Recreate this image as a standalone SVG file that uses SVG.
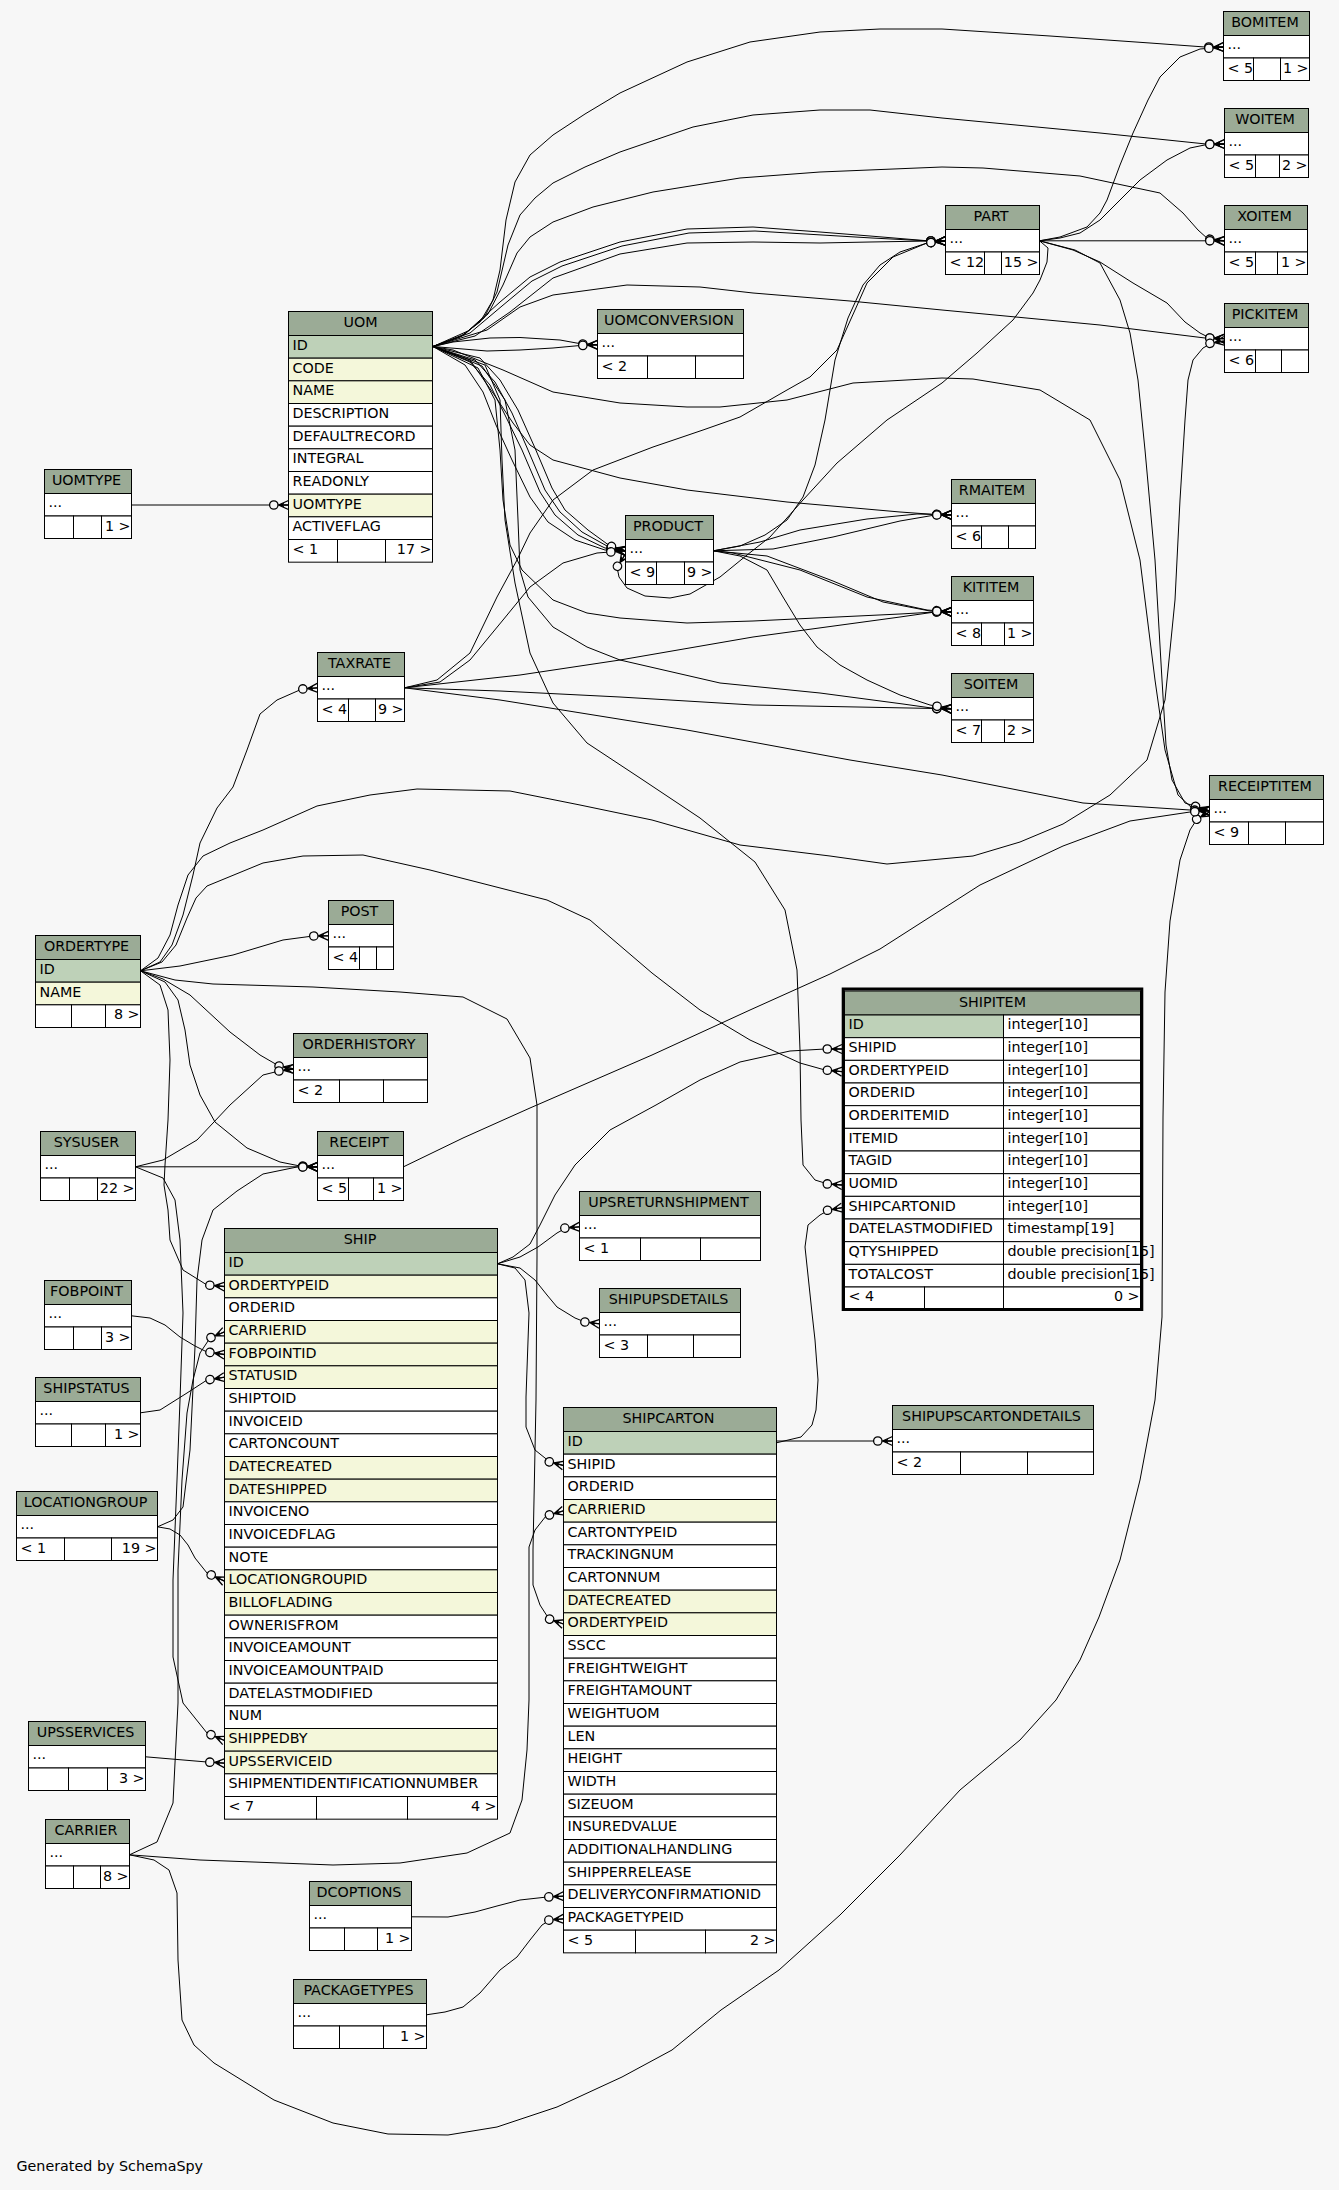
<svg xmlns="http://www.w3.org/2000/svg" width="1339" height="2190" viewBox="0 0 1339 2190">
<style>
.h{fill:#9bab96;stroke:#000;stroke-width:1}
.w{fill:#fff;stroke:#000;stroke-width:1}
.pk{fill:#bed1b8;stroke:#000;stroke-width:1}
.ix{fill:#f4f7da;stroke:#000;stroke-width:1}
text{font-family:"DejaVu Sans","Liberation Sans",sans-serif;font-size:14.3px;fill:#000}
.c{text-anchor:middle}
.r{text-anchor:end}
.e{fill:none;stroke:#000;stroke-width:1;marker-end:url(#cf)}
</style>
<defs>
<marker id="cf" markerUnits="userSpaceOnUse" markerWidth="24" markerHeight="12" refX="0" refY="0" orient="auto" overflow="visible">
<path d="M-10,0 L0,-4.5 M-10,0 L0,4.5 M-10,0 L0,0" stroke="#000" stroke-width="1.3" fill="none"/>
<path d="M-10,0 L-4,-2.6 L-5.5,0 L-4,2.6 Z" fill="#000"/>
<circle cx="-14.7" cy="0" r="4.2" fill="#f7f7f7" stroke="#000" stroke-width="1.3"/>
</marker>
</defs>
<rect x="0" y="0" width="1339" height="2190" fill="#f7f7f7"/>
<g id="edges">
<path class="e" d="M433,346.5 L460,337 L480,322 L493,300 L500,270 L506,220 L515,182 L530,155 L553,135 L585,114 L620,93 L687,62 L750,42 L820,32 L880,29 L942,29 L1050,36 L1150,43 L1205,47 L1223.5,47"/>
<path class="e" d="M433,346.5 L462,336 L484,318 L497,292 L508,245 L520,215 L535,198 L553,183 L585,167 L620,152 L693,127 L753,115 L820,110 L870,110 L942,118 L1100,133 L1206,144 L1224.5,144"/>
<path class="e" d="M433,346.5 L465,334 L488,314 L503,285 L517,253 L530,237 L553,222 L593,207 L653,192 L740,178 L820,172 L942,167 L983,168 L1080,176 L1160,193 L1183,213 L1198,230 L1208,239 L1224.5,240.8"/>
<path class="e" d="M433,346.5 L468,331 L500,302 L530,277 L560,262 L620,242 L687,229 L753,227 L820,232 L870,236 L930,241 L945.5,241"/>
<path class="e" d="M433,346.5 L470,333 L502,306 L532,281 L562,266 L622,246 L689,233 L755,231 L822,235 L872,238 L930,241 L945.5,241"/>
<path class="e" d="M433,346.5 L475,336 L510,312 L553,278 L620,254 L687,243 L753,242 L820,243 L870,242 L930,241 L945.5,241"/>
<path class="e" d="M433,346.5 L487,330 L520,307 L553,295 L627,285 L700,287 L753,293 L850,301 L942,310 L1100,325 L1205,338 L1224.5,338.7"/>
<path class="e" d="M433,346.5 L453,342 L490,338 L520,337.5 L560,340 L582,344 L597.5,344.8"/>
<path class="e" d="M433,346.5 L487,351 L520,350 L553,348 L580,345.5 L597.5,344.8"/>
<path class="e" d="M433,346.5 L470,362 L490,385 L505,415 L522,450 L540,492 L555,515 L578,535 L605,548 L625.5,550.8"/>
<path class="e" d="M433,346.5 L475,360 L495,382 L512,413 L528,450 L545,490 L560,512 L582,532 L607,546 L625.5,550.8"/>
<path class="e" d="M433,346.5 L465,365 L483,392 L496,425 L512,460 L530,497 L548,522 L575,540 L605,550 L625.5,550.8"/>
<path class="e" d="M433,346.5 L480,358 L500,380 L518,410 L535,448 L552,488 L565,510 L588,530 L610,546 L625.5,550.8"/>
<path class="e" d="M433,346.5 L470,360 L493,393 L513,423 L530,445 L553,460 L620,478 L687,490 L787,502 L900,512 L935,514.5 L951.5,514.8"/>
<path class="e" d="M433,346.5 L478,368 L495,400 L500,450 L503,500 L510,545 L522,570 L553,600 L587,613 L620,618 L687,623 L753,621 L900,614 L935,612 L951.5,611.8"/>
<path class="e" d="M433,346.5 L482,366 L505,400 L515,450 L518,520 L520,570 L528,597 L553,627 L587,647 L620,660 L720,683 L820,693 L903,704 L935,708.5 L951.5,708.8"/>
<path class="e" d="M433,346.5 L485,365 L500,400 L502,460 L505,520 L515,583 L530,653 L553,703 L587,743 L640,778 L700,818 L755,862 L785,910 L797,970 L800,1050 L801,1120 L803,1165 L815,1180 L828,1184 L842,1185"/>
<path class="e" d="M433,346.5 L453,350 L503,370 L553,392 L620,403 L687,407 L720,407 L787,400 L853,383 L942,378 L973,379 L1040,390 L1090,420 L1120,480 L1140,560 L1155,680 L1165,750 L1178,795 L1192,808 L1209.5,810.8"/>
<path class="e" d="M1039.5,240.8 L1060,237 L1087,227 L1100,213 L1107,200 L1120,165 L1133,133 L1148,100 L1160,77 L1180,57 L1200,49 L1223.5,47"/>
<path class="e" d="M1039.5,240.8 L1060,238 L1080,233 L1100,220 L1113,207 L1140,180 L1167,160 L1190,148 L1207,144.5 L1224.5,144"/>
<path class="e" d="M1039.5,240.8 L1224.5,240.8"/>
<path class="e" d="M1039.5,240.8 L1073,250 L1100,262 L1133,283 L1167,303 L1185,322 L1200,333 L1210,338 L1224.5,338.7"/>
<path class="e" d="M1039.5,240.8 L1075,250 L1100,263 L1120,300 L1130,333 L1138,380 L1145,450 L1155,560 L1162,680 L1166,745 L1172,780 L1185,803 L1209.5,810.8"/>
<path class="e" d="M1039.5,240.8 L1048,248 L1047,262 L1040,280 L1033,293 L1013,320 L977,353 L942,383 L887,420 L837,463 L803,500 L770,537 L747,555 L720,577 L690,594 L670,598 L645,596 L627,588 L619,577 L617,567 L625.5,554"/>
<path class="e" d="M713.5,550.8 L740,546 L765,535 L787,520 L803,497 L815,465 L825,420 L835,360 L848,318 L863,285 L880,265 L900,252 L927,243 L945.5,241"/>
<path class="e" d="M404.5,687.8 L437,680 L470,653 L497,597 L517,560 L530,533 L553,500 L593,470 L653,447 L703,430 L740,417 L787,390 L810,377 L837,350 L855,310 L867,283 L893,257 L927,243 L945.5,241"/>
<path class="e" d="M404.5,687.8 L440,682 L470,660 L503,620 L530,587 L563,563 L597,553 L625.5,550.8"/>
<path class="e" d="M404.5,687.8 L520,675 L620,660 L753,637 L900,617 L935,612 L951.5,611.8"/>
<path class="e" d="M404.5,687.8 L500,691 L620,697 L753,705 L935,708.5 L951.5,708.8"/>
<path class="e" d="M404.5,687.8 L500,700 L687,730 L850,760 L942,775 L1083,803 L1190,810 L1209.5,810.8"/>
<path class="e" d="M713.5,550.8 L760,542 L800,530 L867,519 L917,514 L951.5,514.8"/>
<path class="e" d="M713.5,550.8 L773,549 L833,537 L900,521 L935,515 L951.5,514.8"/>
<path class="e" d="M713.5,550.8 L733,553 L800,570 L867,597 L927,610 L951.5,611.8"/>
<path class="e" d="M713.5,550.8 L767,556 L833,581 L883,602 L930,611 L951.5,611.8"/>
<path class="e" d="M713.5,550.8 L740,556 L767,570 L783,597 L800,625 L817,647 L840,665 L867,680 L900,695 L930,705 L951.5,708.8"/>
<path class="e" d="M131.5,505 L288.5,505"/>
<path class="e" d="M140.5,970.8 L160,962 L172,945 L183,915 L193,875 L200,843 L217,808 L233,787 L247,750 L260,714 L277,700 L302,689 L317.5,687.8"/>
<path class="e" d="M140.5,970.8 L158,958 L170,935 L178,905 L188,875 L203,856 L230,843 L263,830 L317,806 L370,795 L417,789 L510,791 L580,805 L652,820 L740,845 L830,856 L887,864 L973,856 L1020,842 L1063,824 L1110,795 L1147,760 L1165,700 L1175,600 L1180,500 L1185,420 L1188,380 L1193,360 L1203,348 L1212,343 L1224.5,341"/>
<path class="e" d="M140.5,970.8 L162,962 L176,945 L187,918 L196,898 L207,886 L263,863 L303,856 L363,855 L430,870 L547,900 L590,920 L652,973 L700,1010 L750,1040 L800,1063 L825,1070 L842,1071.7"/>
<path class="e" d="M140.5,970.8 L180,966 L233,955 L283,940 L313,936 L328.5,935.8"/>
<path class="e" d="M140.5,970.8 L163,979 L190,995 L230,1032 L260,1055 L279,1066 L293.5,1068.8"/>
<path class="e" d="M140.5,970.8 L165,982 L178,1000 L185,1030 L190,1065 L200,1095 L215,1122 L247,1148 L280,1162 L300,1166 L317.5,1166.8"/>
<path class="e" d="M140.5,970.8 L160,985 L168,1010 L170,1060 L168,1120 L165,1165 L164,1185 L168,1210 L170,1240 L183,1270 L207,1285 L224.5,1286.5"/>
<path class="e" d="M140.5,970.8 L175,980 L213,984 L313,987 L400,992 L463,997 L507,1019 L530,1058 L537,1105 L537,1257 L536,1400 L533,1550 L533,1585 L540,1605 L549,1619 L563.5,1624"/>
<path class="e" d="M135.5,1166.8 L163,1160 L197,1140 L230,1105 L263,1075 L279,1071 L293.5,1069"/>
<path class="e" d="M135.5,1166.8 L317.5,1166.8"/>
<path class="e" d="M135.5,1166.8 L163,1178 L175,1200 L180,1240 L183,1313 L180,1400 L177,1480 L173,1580 L173,1657 L183,1703 L207,1733 L224.5,1740.5"/>
<path class="e" d="M129.5,1854.8 L157,1842 L173,1803 L178,1703 L178,1570 L182,1480 L187,1413 L193,1380 L200,1353 L210,1338 L224.5,1331.8"/>
<path class="e" d="M129.5,1854.8 L200,1860 L333,1865 L400,1863 L467,1853 L510,1833 L522,1800 L527,1750 L529,1700 L529,1600 L529,1547 L535,1530 L546,1516 L563.5,1510.8"/>
<path class="e" d="M129.5,1854.8 L154,1860 L169,1870 L177,1893 L178,1960 L182,2020 L194,2045 L214,2063 L274,2100 L333,2123 L388,2134 L448,2135 L497,2127 L557,2107 L622,2077 L672,2050 L721,2010 L779,1970 L840,1915 L900,1855 L960,1790 L1020,1740 L1056,1700 L1080,1660 L1099,1617 L1120,1560 L1140,1480 L1155,1400 L1162,1317 L1163,1117 L1165,992 L1170,921 L1180,860 L1190,830 L1197,819 L1209.5,812"/>
<path class="e" d="M140.5,1412.8 L160,1410 L187,1393 L207,1380 L224.5,1377.2"/>
<path class="e" d="M131.5,1315.8 L150,1318 L165,1325 L180,1337 L195,1346 L207,1352 L224.5,1354.5"/>
<path class="e" d="M157.5,1526.8 L170,1529 L180,1535 L188,1545 L195,1558 L207,1573 L224.5,1581.2"/>
<path class="e" d="M157.5,1526.8 L173,1520 L183,1507 L190,1450 L195,1347 L197,1280 L202,1240 L213,1210 L237,1191 L263,1174 L297,1167 L317.5,1166.8"/>
<path class="e" d="M145.5,1756.8 L207,1762 L224.5,1763.2"/>
<path class="e" d="M411.5,1916.8 L448,1917 L475,1912 L497,1906 L520,1900 L547,1897 L563.5,1896.2"/>
<path class="e" d="M426.5,2014.8 L445,2012 L463,2007 L480,1993 L500,1970 L517,1957 L530,1940 L542,1925 L550,1920 L563.5,1918.8"/>
<path class="e" d="M497.5,1263.8 L513,1257 L530,1244 L540,1225 L555,1195 L575,1165 L610,1130 L656,1105 L700,1080 L740,1062 L790,1051 L825,1049 L842,1049"/>
<path class="e" d="M497.5,1263.8 L520,1257 L538,1247 L557,1233 L566,1228 L579.5,1226.8"/>
<path class="e" d="M497.5,1263.8 L520,1268 L535,1280 L547,1295 L557,1307 L575,1318 L585,1322 L599.5,1323.8"/>
<path class="e" d="M497.5,1263.8 L515,1268 L525,1280 L529,1313 L526,1397 L526,1427 L535,1450 L550,1462 L563.5,1465.5"/>
<path class="e" d="M776.5,1441 L892.5,1441"/>
<path class="e" d="M776.5,1442.8 L801,1437 L812,1425 L816,1410 L818,1380 L815,1340 L812,1313 L805,1247 L808,1225 L820,1215 L829,1210 L842,1207.7"/>
<path class="e" d="M403.5,1166.8 L463,1138 L530,1108 L652,1055 L750,1010 L830,974 L880,949 L980,885 L1063,846 L1130,821 L1190,812 L1209.5,810.8"/>
</g>
<g id="BOMITEM">
<rect class="h" x="1223.5" y="11.5" width="86" height="24"/>
<rect class="w" x="1223.5" y="35.5" width="86" height="22.5"/>
<rect class="w" x="1223.5" y="58" width="30" height="22.5"/>
<rect class="w" x="1253.5" y="58" width="27" height="22.5"/>
<rect class="w" x="1280.5" y="58" width="29" height="22.5"/>
<text class="c" x="1265" y="27">BOMITEM</text>
<text x="1227.5" y="48.5">...</text>
<text x="1227.5" y="72.5">&lt; 5</text>
<text class="r" x="1308.5" y="72.5">1 &gt;</text>
</g>
<g id="WOITEM">
<rect class="h" x="1224.5" y="108.5" width="84" height="24"/>
<rect class="w" x="1224.5" y="132.5" width="84" height="22.5"/>
<rect class="w" x="1224.5" y="155" width="31" height="22.5"/>
<rect class="w" x="1255.5" y="155" width="24" height="22.5"/>
<rect class="w" x="1279.5" y="155" width="29" height="22.5"/>
<text class="c" x="1265" y="124">WOITEM</text>
<text x="1228.5" y="145.5">...</text>
<text x="1228.5" y="169.5">&lt; 5</text>
<text class="r" x="1307.5" y="169.5">2 &gt;</text>
</g>
<g id="XOITEM">
<rect class="h" x="1224.5" y="205.5" width="83" height="24"/>
<rect class="w" x="1224.5" y="229.5" width="83" height="22.5"/>
<rect class="w" x="1224.5" y="252" width="31" height="22.5"/>
<rect class="w" x="1255.5" y="252" width="22" height="22.5"/>
<rect class="w" x="1277.5" y="252" width="30" height="22.5"/>
<text class="c" x="1264.5" y="221">XOITEM</text>
<text x="1228.5" y="242.5">...</text>
<text x="1228.5" y="266.5">&lt; 5</text>
<text class="r" x="1306.5" y="266.5">1 &gt;</text>
</g>
<g id="PART">
<rect class="h" x="945.5" y="205.5" width="94" height="24"/>
<rect class="w" x="945.5" y="229.5" width="94" height="22.5"/>
<rect class="w" x="945.5" y="252" width="39" height="22.5"/>
<rect class="w" x="984.5" y="252" width="17" height="22.5"/>
<rect class="w" x="1001.5" y="252" width="38" height="22.5"/>
<text class="c" x="991" y="221">PART</text>
<text x="949.5" y="242.5">...</text>
<text x="949.5" y="266.5">&lt; 12</text>
<text class="r" x="1038.5" y="266.5">15 &gt;</text>
</g>
<g id="PICKITEM">
<rect class="h" x="1224.5" y="303.5" width="84" height="24"/>
<rect class="w" x="1224.5" y="327.5" width="84" height="22.5"/>
<rect class="w" x="1224.5" y="350" width="31" height="22.5"/>
<rect class="w" x="1255.5" y="350" width="26" height="22.5"/>
<rect class="w" x="1281.5" y="350" width="27" height="22.5"/>
<text class="c" x="1265" y="319">PICKITEM</text>
<text x="1228.5" y="340.5">...</text>
<text x="1228.5" y="364.5">&lt; 6</text>
</g>
<g id="UOMCONVERSION">
<rect class="h" x="597.5" y="309.5" width="146" height="24"/>
<rect class="w" x="597.5" y="333.5" width="146" height="22.5"/>
<rect class="w" x="597.5" y="356" width="50" height="22.5"/>
<rect class="w" x="647.5" y="356" width="48" height="22.5"/>
<rect class="w" x="695.5" y="356" width="48" height="22.5"/>
<text class="c" x="669" y="325">UOMCONVERSION</text>
<text x="601.5" y="346.5">...</text>
<text x="601.5" y="370.5">&lt; 2</text>
</g>
<g id="UOMTYPE">
<rect class="h" x="44.5" y="469.5" width="87" height="24"/>
<rect class="w" x="44.5" y="493.5" width="87" height="22.5"/>
<rect class="w" x="44.5" y="516" width="29" height="22.5"/>
<rect class="w" x="73.5" y="516" width="28" height="22.5"/>
<rect class="w" x="101.5" y="516" width="30" height="22.5"/>
<text class="c" x="86.5" y="485">UOMTYPE</text>
<text x="48.5" y="506.5">...</text>
<text class="r" x="130.5" y="530.5">1 &gt;</text>
</g>
<g id="UOM">
<rect class="h" x="288.5" y="311.5" width="144" height="24"/>
<rect class="pk" x="288.5" y="335.5" width="144" height="22.67"/>
<rect class="ix" x="288.5" y="358.17" width="144" height="22.67"/>
<rect class="ix" x="288.5" y="380.83" width="144" height="22.67"/>
<rect class="w" x="288.5" y="403.5" width="144" height="22.67"/>
<rect class="w" x="288.5" y="426.17" width="144" height="22.67"/>
<rect class="w" x="288.5" y="448.83" width="144" height="22.67"/>
<rect class="w" x="288.5" y="471.5" width="144" height="22.67"/>
<rect class="ix" x="288.5" y="494.17" width="144" height="22.67"/>
<rect class="w" x="288.5" y="516.83" width="144" height="22.67"/>
<rect class="w" x="288.5" y="539.5" width="49" height="22.67"/>
<rect class="w" x="337.5" y="539.5" width="48" height="22.67"/>
<rect class="w" x="385.5" y="539.5" width="47" height="22.67"/>
<text class="c" x="360.5" y="327">UOM</text>
<text x="292.5" y="349.8">ID</text>
<text x="292.5" y="372.5">CODE</text>
<text x="292.5" y="395.1">NAME</text>
<text x="292.5" y="417.8">DESCRIPTION</text>
<text x="292.5" y="440.5">DEFAULTRECORD</text>
<text x="292.5" y="463.1">INTEGRAL</text>
<text x="292.5" y="485.8">READONLY</text>
<text x="292.5" y="508.5">UOMTYPE</text>
<text x="292.5" y="531.1">ACTIVEFLAG</text>
<text x="292.5" y="553.8">&lt; 1</text>
<text class="r" x="431.5" y="553.8">17 &gt;</text>
</g>
<g id="PRODUCT">
<rect class="h" x="625.5" y="515.5" width="88" height="24"/>
<rect class="w" x="625.5" y="539.5" width="88" height="22.5"/>
<rect class="w" x="625.5" y="562" width="31" height="22.5"/>
<rect class="w" x="656.5" y="562" width="28" height="22.5"/>
<rect class="w" x="684.5" y="562" width="29" height="22.5"/>
<text class="c" x="668" y="531">PRODUCT</text>
<text x="629.5" y="552.5">...</text>
<text x="629.5" y="576.5">&lt; 9</text>
<text class="r" x="712.5" y="576.5">9 &gt;</text>
</g>
<g id="RMAITEM">
<rect class="h" x="951.5" y="479.5" width="84" height="24"/>
<rect class="w" x="951.5" y="503.5" width="84" height="22.5"/>
<rect class="w" x="951.5" y="526" width="30" height="22.5"/>
<rect class="w" x="981.5" y="526" width="27" height="22.5"/>
<rect class="w" x="1008.5" y="526" width="27" height="22.5"/>
<text class="c" x="992" y="495">RMAITEM</text>
<text x="955.5" y="516.5">...</text>
<text x="955.5" y="540.5">&lt; 6</text>
</g>
<g id="KITITEM">
<rect class="h" x="951.5" y="576.5" width="82" height="24"/>
<rect class="w" x="951.5" y="600.5" width="82" height="22.5"/>
<rect class="w" x="951.5" y="623" width="30" height="22.5"/>
<rect class="w" x="981.5" y="623" width="23" height="22.5"/>
<rect class="w" x="1004.5" y="623" width="29" height="22.5"/>
<text class="c" x="991" y="592">KITITEM</text>
<text x="955.5" y="613.5">...</text>
<text x="955.5" y="637.5">&lt; 8</text>
<text class="r" x="1032.5" y="637.5">1 &gt;</text>
</g>
<g id="SOITEM">
<rect class="h" x="951.5" y="673.5" width="82" height="24"/>
<rect class="w" x="951.5" y="697.5" width="82" height="22.5"/>
<rect class="w" x="951.5" y="720" width="30" height="22.5"/>
<rect class="w" x="981.5" y="720" width="23" height="22.5"/>
<rect class="w" x="1004.5" y="720" width="29" height="22.5"/>
<text class="c" x="991" y="689">SOITEM</text>
<text x="955.5" y="710.5">...</text>
<text x="955.5" y="734.5">&lt; 7</text>
<text class="r" x="1032.5" y="734.5">2 &gt;</text>
</g>
<g id="TAXRATE">
<rect class="h" x="317.5" y="652.5" width="87" height="24"/>
<rect class="w" x="317.5" y="676.5" width="87" height="22.5"/>
<rect class="w" x="317.5" y="699" width="31" height="22.5"/>
<rect class="w" x="348.5" y="699" width="27" height="22.5"/>
<rect class="w" x="375.5" y="699" width="29" height="22.5"/>
<text class="c" x="359.5" y="668">TAXRATE</text>
<text x="321.5" y="689.5">...</text>
<text x="321.5" y="713.5">&lt; 4</text>
<text class="r" x="403.5" y="713.5">9 &gt;</text>
</g>
<g id="RECEIPTITEM">
<rect class="h" x="1209.5" y="775.5" width="114" height="24"/>
<rect class="w" x="1209.5" y="799.5" width="114" height="22.5"/>
<rect class="w" x="1209.5" y="822" width="39" height="22.5"/>
<rect class="w" x="1248.5" y="822" width="37" height="22.5"/>
<rect class="w" x="1285.5" y="822" width="38" height="22.5"/>
<text class="c" x="1265" y="791">RECEIPTITEM</text>
<text x="1213.5" y="812.5">...</text>
<text x="1213.5" y="836.5">&lt; 9</text>
</g>
<g id="POST">
<rect class="h" x="328.5" y="900.5" width="65" height="24"/>
<rect class="w" x="328.5" y="924.5" width="65" height="22.5"/>
<rect class="w" x="328.5" y="947" width="31" height="22.5"/>
<rect class="w" x="359.5" y="947" width="17" height="22.5"/>
<rect class="w" x="376.5" y="947" width="17" height="22.5"/>
<text class="c" x="359.5" y="916">POST</text>
<text x="332.5" y="937.5">...</text>
<text x="332.5" y="961.5">&lt; 4</text>
</g>
<g id="ORDERTYPE">
<rect class="h" x="35.5" y="935.5" width="105" height="24"/>
<rect class="pk" x="35.5" y="959.5" width="105" height="22.67"/>
<rect class="ix" x="35.5" y="982.17" width="105" height="22.67"/>
<rect class="w" x="35.5" y="1004.83" width="36" height="22.67"/>
<rect class="w" x="71.5" y="1004.83" width="34" height="22.67"/>
<rect class="w" x="105.5" y="1004.83" width="35" height="22.67"/>
<text class="c" x="86.5" y="951">ORDERTYPE</text>
<text x="39.5" y="973.8">ID</text>
<text x="39.5" y="996.5">NAME</text>
<text class="r" x="139.5" y="1019.1">8 &gt;</text>
</g>
<g id="ORDERHISTORY">
<rect class="h" x="293.5" y="1033.5" width="134" height="24"/>
<rect class="w" x="293.5" y="1057.5" width="134" height="22.5"/>
<rect class="w" x="293.5" y="1080" width="46" height="22.5"/>
<rect class="w" x="339.5" y="1080" width="44" height="22.5"/>
<rect class="w" x="383.5" y="1080" width="44" height="22.5"/>
<text class="c" x="359" y="1049">ORDERHISTORY</text>
<text x="297.5" y="1070.5">...</text>
<text x="297.5" y="1094.5">&lt; 2</text>
</g>
<g id="SYSUSER">
<rect class="h" x="40.5" y="1131.5" width="95" height="24"/>
<rect class="w" x="40.5" y="1155.5" width="95" height="22.5"/>
<rect class="w" x="40.5" y="1178" width="29" height="22.5"/>
<rect class="w" x="69.5" y="1178" width="28" height="22.5"/>
<rect class="w" x="97.5" y="1178" width="38" height="22.5"/>
<text class="c" x="86.5" y="1147">SYSUSER</text>
<text x="44.5" y="1168.5">...</text>
<text class="r" x="134.5" y="1192.5">22 &gt;</text>
</g>
<g id="RECEIPT">
<rect class="h" x="317.5" y="1131.5" width="86" height="24"/>
<rect class="w" x="317.5" y="1155.5" width="86" height="22.5"/>
<rect class="w" x="317.5" y="1178" width="31" height="22.5"/>
<rect class="w" x="348.5" y="1178" width="25" height="22.5"/>
<rect class="w" x="373.5" y="1178" width="30" height="22.5"/>
<text class="c" x="359" y="1147">RECEIPT</text>
<text x="321.5" y="1168.5">...</text>
<text x="321.5" y="1192.5">&lt; 5</text>
<text class="r" x="402.5" y="1192.5">1 &gt;</text>
</g>
<g id="UPSRETURNSHIPMENT">
<rect class="h" x="579.5" y="1191.5" width="181" height="24"/>
<rect class="w" x="579.5" y="1215.5" width="181" height="22.5"/>
<rect class="w" x="579.5" y="1238" width="61" height="22.5"/>
<rect class="w" x="640.5" y="1238" width="60" height="22.5"/>
<rect class="w" x="700.5" y="1238" width="60" height="22.5"/>
<text class="c" x="668.5" y="1207">UPSRETURNSHIPMENT</text>
<text x="583.5" y="1228.5">...</text>
<text x="583.5" y="1252.5">&lt; 1</text>
</g>
<g id="SHIPUPSDETAILS">
<rect class="h" x="599.5" y="1288.5" width="141" height="24"/>
<rect class="w" x="599.5" y="1312.5" width="141" height="22.5"/>
<rect class="w" x="599.5" y="1335" width="48" height="22.5"/>
<rect class="w" x="647.5" y="1335" width="46" height="22.5"/>
<rect class="w" x="693.5" y="1335" width="47" height="22.5"/>
<text class="c" x="668.5" y="1304">SHIPUPSDETAILS</text>
<text x="603.5" y="1325.5">...</text>
<text x="603.5" y="1349.5">&lt; 3</text>
</g>
<g id="FOBPOINT">
<rect class="h" x="44.5" y="1280.5" width="87" height="24"/>
<rect class="w" x="44.5" y="1304.5" width="87" height="22.5"/>
<rect class="w" x="44.5" y="1327" width="29" height="22.5"/>
<rect class="w" x="73.5" y="1327" width="28" height="22.5"/>
<rect class="w" x="101.5" y="1327" width="30" height="22.5"/>
<text class="c" x="86.5" y="1296">FOBPOINT</text>
<text x="48.5" y="1317.5">...</text>
<text class="r" x="130.5" y="1341.5">3 &gt;</text>
</g>
<g id="SHIPSTATUS">
<rect class="h" x="35.5" y="1377.5" width="105" height="24"/>
<rect class="w" x="35.5" y="1401.5" width="105" height="22.5"/>
<rect class="w" x="35.5" y="1424" width="36" height="22.5"/>
<rect class="w" x="71.5" y="1424" width="34" height="22.5"/>
<rect class="w" x="105.5" y="1424" width="35" height="22.5"/>
<text class="c" x="86.5" y="1393">SHIPSTATUS</text>
<text x="39.5" y="1414.5">...</text>
<text class="r" x="139.5" y="1438.5">1 &gt;</text>
</g>
<g id="SHIPUPSCARTONDETAILS">
<rect class="h" x="892.5" y="1405.5" width="201" height="24"/>
<rect class="w" x="892.5" y="1429.5" width="201" height="22.5"/>
<rect class="w" x="892.5" y="1452" width="68" height="22.5"/>
<rect class="w" x="960.5" y="1452" width="67" height="22.5"/>
<rect class="w" x="1027.5" y="1452" width="66" height="22.5"/>
<text class="c" x="991.5" y="1421">SHIPUPSCARTONDETAILS</text>
<text x="896.5" y="1442.5">...</text>
<text x="896.5" y="1466.5">&lt; 2</text>
</g>
<g id="LOCATIONGROUP">
<rect class="h" x="16.5" y="1491.5" width="141" height="24"/>
<rect class="w" x="16.5" y="1515.5" width="141" height="22.5"/>
<rect class="w" x="16.5" y="1538" width="48" height="22.5"/>
<rect class="w" x="64.5" y="1538" width="47" height="22.5"/>
<rect class="w" x="111.5" y="1538" width="46" height="22.5"/>
<text class="c" x="85.5" y="1507">LOCATIONGROUP</text>
<text x="20.5" y="1528.5">...</text>
<text x="20.5" y="1552.5">&lt; 1</text>
<text class="r" x="156.5" y="1552.5">19 &gt;</text>
</g>
<g id="UPSSERVICES">
<rect class="h" x="28.5" y="1721.5" width="117" height="24"/>
<rect class="w" x="28.5" y="1745.5" width="117" height="22.5"/>
<rect class="w" x="28.5" y="1768" width="40" height="22.5"/>
<rect class="w" x="68.5" y="1768" width="39" height="22.5"/>
<rect class="w" x="107.5" y="1768" width="38" height="22.5"/>
<text class="c" x="85.5" y="1737">UPSSERVICES</text>
<text x="32.5" y="1758.5">...</text>
<text class="r" x="144.5" y="1782.5">3 &gt;</text>
</g>
<g id="CARRIER">
<rect class="h" x="45.5" y="1819.5" width="84" height="24"/>
<rect class="w" x="45.5" y="1843.5" width="84" height="22.5"/>
<rect class="w" x="45.5" y="1866" width="28" height="22.5"/>
<rect class="w" x="73.5" y="1866" width="27" height="22.5"/>
<rect class="w" x="100.5" y="1866" width="29" height="22.5"/>
<text class="c" x="86" y="1835">CARRIER</text>
<text x="49.5" y="1856.5">...</text>
<text class="r" x="128.5" y="1880.5">8 &gt;</text>
</g>
<g id="DCOPTIONS">
<rect class="h" x="309.5" y="1881.5" width="102" height="24"/>
<rect class="w" x="309.5" y="1905.5" width="102" height="22.5"/>
<rect class="w" x="309.5" y="1928" width="35" height="22.5"/>
<rect class="w" x="344.5" y="1928" width="33" height="22.5"/>
<rect class="w" x="377.5" y="1928" width="34" height="22.5"/>
<text class="c" x="359" y="1897">DCOPTIONS</text>
<text x="313.5" y="1918.5">...</text>
<text class="r" x="410.5" y="1942.5">1 &gt;</text>
</g>
<g id="PACKAGETYPES">
<rect class="h" x="293.5" y="1979.5" width="133" height="24"/>
<rect class="w" x="293.5" y="2003.5" width="133" height="22.5"/>
<rect class="w" x="293.5" y="2026" width="46" height="22.5"/>
<rect class="w" x="339.5" y="2026" width="44" height="22.5"/>
<rect class="w" x="383.5" y="2026" width="43" height="22.5"/>
<text class="c" x="358.5" y="1995">PACKAGETYPES</text>
<text x="297.5" y="2016.5">...</text>
<text class="r" x="425.5" y="2040.5">1 &gt;</text>
</g>
<g id="SHIP">
<rect class="h" x="224.5" y="1228.5" width="273" height="24"/>
<rect class="pk" x="224.5" y="1252.5" width="273" height="22.67"/>
<rect class="ix" x="224.5" y="1275.17" width="273" height="22.67"/>
<rect class="w" x="224.5" y="1297.83" width="273" height="22.67"/>
<rect class="ix" x="224.5" y="1320.5" width="273" height="22.67"/>
<rect class="ix" x="224.5" y="1343.17" width="273" height="22.67"/>
<rect class="ix" x="224.5" y="1365.83" width="273" height="22.67"/>
<rect class="w" x="224.5" y="1388.5" width="273" height="22.67"/>
<rect class="w" x="224.5" y="1411.17" width="273" height="22.67"/>
<rect class="w" x="224.5" y="1433.83" width="273" height="22.67"/>
<rect class="ix" x="224.5" y="1456.5" width="273" height="22.67"/>
<rect class="ix" x="224.5" y="1479.17" width="273" height="22.67"/>
<rect class="w" x="224.5" y="1501.83" width="273" height="22.67"/>
<rect class="w" x="224.5" y="1524.5" width="273" height="22.67"/>
<rect class="w" x="224.5" y="1547.17" width="273" height="22.67"/>
<rect class="ix" x="224.5" y="1569.83" width="273" height="22.67"/>
<rect class="ix" x="224.5" y="1592.5" width="273" height="22.67"/>
<rect class="w" x="224.5" y="1615.17" width="273" height="22.67"/>
<rect class="w" x="224.5" y="1637.83" width="273" height="22.67"/>
<rect class="w" x="224.5" y="1660.5" width="273" height="22.67"/>
<rect class="w" x="224.5" y="1683.17" width="273" height="22.67"/>
<rect class="w" x="224.5" y="1705.83" width="273" height="22.67"/>
<rect class="ix" x="224.5" y="1728.5" width="273" height="22.67"/>
<rect class="ix" x="224.5" y="1751.17" width="273" height="22.67"/>
<rect class="w" x="224.5" y="1773.83" width="273" height="22.67"/>
<rect class="w" x="224.5" y="1796.5" width="92" height="22.67"/>
<rect class="w" x="316.5" y="1796.5" width="91" height="22.67"/>
<rect class="w" x="407.5" y="1796.5" width="90" height="22.67"/>
<text class="c" x="360" y="1244">SHIP</text>
<text x="228.5" y="1266.8">ID</text>
<text x="228.5" y="1289.5">ORDERTYPEID</text>
<text x="228.5" y="1312.1">ORDERID</text>
<text x="228.5" y="1334.8">CARRIERID</text>
<text x="228.5" y="1357.5">FOBPOINTID</text>
<text x="228.5" y="1380.1">STATUSID</text>
<text x="228.5" y="1402.8">SHIPTOID</text>
<text x="228.5" y="1425.5">INVOICEID</text>
<text x="228.5" y="1448.1">CARTONCOUNT</text>
<text x="228.5" y="1470.8">DATECREATED</text>
<text x="228.5" y="1493.5">DATESHIPPED</text>
<text x="228.5" y="1516.1">INVOICENO</text>
<text x="228.5" y="1538.8">INVOICEDFLAG</text>
<text x="228.5" y="1561.5">NOTE</text>
<text x="228.5" y="1584.1">LOCATIONGROUPID</text>
<text x="228.5" y="1606.8">BILLOFLADING</text>
<text x="228.5" y="1629.5">OWNERISFROM</text>
<text x="228.5" y="1652.1">INVOICEAMOUNT</text>
<text x="228.5" y="1674.8">INVOICEAMOUNTPAID</text>
<text x="228.5" y="1697.5">DATELASTMODIFIED</text>
<text x="228.5" y="1720.1">NUM</text>
<text x="228.5" y="1742.8">SHIPPEDBY</text>
<text x="228.5" y="1765.5">UPSSERVICEID</text>
<text x="228.5" y="1788.1">SHIPMENTIDENTIFICATIONNUMBER</text>
<text x="228.5" y="1810.8">&lt; 7</text>
<text class="r" x="496.5" y="1810.8">4 &gt;</text>
</g>
<g id="SHIPCARTON">
<rect class="h" x="563.5" y="1407.5" width="213" height="24"/>
<rect class="pk" x="563.5" y="1431.5" width="213" height="22.67"/>
<rect class="w" x="563.5" y="1454.17" width="213" height="22.67"/>
<rect class="w" x="563.5" y="1476.83" width="213" height="22.67"/>
<rect class="ix" x="563.5" y="1499.5" width="213" height="22.67"/>
<rect class="w" x="563.5" y="1522.17" width="213" height="22.67"/>
<rect class="w" x="563.5" y="1544.83" width="213" height="22.67"/>
<rect class="w" x="563.5" y="1567.5" width="213" height="22.67"/>
<rect class="ix" x="563.5" y="1590.17" width="213" height="22.67"/>
<rect class="ix" x="563.5" y="1612.83" width="213" height="22.67"/>
<rect class="w" x="563.5" y="1635.5" width="213" height="22.67"/>
<rect class="w" x="563.5" y="1658.17" width="213" height="22.67"/>
<rect class="w" x="563.5" y="1680.83" width="213" height="22.67"/>
<rect class="w" x="563.5" y="1703.5" width="213" height="22.67"/>
<rect class="w" x="563.5" y="1726.17" width="213" height="22.67"/>
<rect class="w" x="563.5" y="1748.83" width="213" height="22.67"/>
<rect class="w" x="563.5" y="1771.5" width="213" height="22.67"/>
<rect class="w" x="563.5" y="1794.17" width="213" height="22.67"/>
<rect class="w" x="563.5" y="1816.83" width="213" height="22.67"/>
<rect class="w" x="563.5" y="1839.5" width="213" height="22.67"/>
<rect class="w" x="563.5" y="1862.17" width="213" height="22.67"/>
<rect class="w" x="563.5" y="1884.83" width="213" height="22.67"/>
<rect class="w" x="563.5" y="1907.5" width="213" height="22.67"/>
<rect class="w" x="563.5" y="1930.17" width="72" height="22.67"/>
<rect class="w" x="635.5" y="1930.17" width="70" height="22.67"/>
<rect class="w" x="705.5" y="1930.17" width="71" height="22.67"/>
<text class="c" x="668.5" y="1423">SHIPCARTON</text>
<text x="567.5" y="1445.8">ID</text>
<text x="567.5" y="1468.5">SHIPID</text>
<text x="567.5" y="1491.1">ORDERID</text>
<text x="567.5" y="1513.8">CARRIERID</text>
<text x="567.5" y="1536.5">CARTONTYPEID</text>
<text x="567.5" y="1559.1">TRACKINGNUM</text>
<text x="567.5" y="1581.8">CARTONNUM</text>
<text x="567.5" y="1604.5">DATECREATED</text>
<text x="567.5" y="1627.1">ORDERTYPEID</text>
<text x="567.5" y="1649.8">SSCC</text>
<text x="567.5" y="1672.5">FREIGHTWEIGHT</text>
<text x="567.5" y="1695.1">FREIGHTAMOUNT</text>
<text x="567.5" y="1717.8">WEIGHTUOM</text>
<text x="567.5" y="1740.5">LEN</text>
<text x="567.5" y="1763.1">HEIGHT</text>
<text x="567.5" y="1785.8">WIDTH</text>
<text x="567.5" y="1808.5">SIZEUOM</text>
<text x="567.5" y="1831.1">INSUREDVALUE</text>
<text x="567.5" y="1853.8">ADDITIONALHANDLING</text>
<text x="567.5" y="1876.5">SHIPPERRELEASE</text>
<text x="567.5" y="1899.1">DELIVERYCONFIRMATIONID</text>
<text x="567.5" y="1921.8">PACKAGETYPEID</text>
<text x="567.5" y="1944.5">&lt; 5</text>
<text class="r" x="775.5" y="1944.5">2 &gt;</text>
</g>
<g id="SHIPITEM">
<rect class="h" x="844.5" y="991" width="296" height="24"/>
<rect class="pk" x="844.5" y="1015" width="159" height="22.67"/>
<rect class="w" x="1003.5" y="1015" width="137" height="22.67"/>
<rect class="w" x="844.5" y="1037.67" width="159" height="22.67"/>
<rect class="w" x="1003.5" y="1037.67" width="137" height="22.67"/>
<rect class="w" x="844.5" y="1060.33" width="159" height="22.67"/>
<rect class="w" x="1003.5" y="1060.33" width="137" height="22.67"/>
<rect class="w" x="844.5" y="1083" width="159" height="22.67"/>
<rect class="w" x="1003.5" y="1083" width="137" height="22.67"/>
<rect class="w" x="844.5" y="1105.67" width="159" height="22.67"/>
<rect class="w" x="1003.5" y="1105.67" width="137" height="22.67"/>
<rect class="w" x="844.5" y="1128.33" width="159" height="22.67"/>
<rect class="w" x="1003.5" y="1128.33" width="137" height="22.67"/>
<rect class="w" x="844.5" y="1151" width="159" height="22.67"/>
<rect class="w" x="1003.5" y="1151" width="137" height="22.67"/>
<rect class="w" x="844.5" y="1173.67" width="159" height="22.67"/>
<rect class="w" x="1003.5" y="1173.67" width="137" height="22.67"/>
<rect class="w" x="844.5" y="1196.33" width="159" height="22.67"/>
<rect class="w" x="1003.5" y="1196.33" width="137" height="22.67"/>
<rect class="w" x="844.5" y="1219" width="159" height="22.67"/>
<rect class="w" x="1003.5" y="1219" width="137" height="22.67"/>
<rect class="w" x="844.5" y="1241.67" width="159" height="22.67"/>
<rect class="w" x="1003.5" y="1241.67" width="137" height="22.67"/>
<rect class="w" x="844.5" y="1264.33" width="159" height="22.67"/>
<rect class="w" x="1003.5" y="1264.33" width="137" height="22.67"/>
<rect class="w" x="844.5" y="1287" width="80" height="22.5"/>
<rect class="w" x="924.5" y="1287" width="79" height="22.5"/>
<rect class="w" x="1003.5" y="1287" width="137" height="22.5"/>
<rect x="843.2" y="989" width="298.6" height="320.5" fill="none" stroke="#000" stroke-width="3"/>
<text class="c" x="992.5" y="1007">SHIPITEM</text>
<text x="848.5" y="1029.3">ID</text>
<text x="848.5" y="1052">SHIPID</text>
<text x="848.5" y="1074.6">ORDERTYPEID</text>
<text x="848.5" y="1097.3">ORDERID</text>
<text x="848.5" y="1120">ORDERITEMID</text>
<text x="848.5" y="1142.6">ITEMID</text>
<text x="848.5" y="1165.3">TAGID</text>
<text x="848.5" y="1188">UOMID</text>
<text x="848.5" y="1210.6">SHIPCARTONID</text>
<text x="848.5" y="1233.3">DATELASTMODIFIED</text>
<text x="848.5" y="1256">QTYSHIPPED</text>
<text x="848.5" y="1278.6">TOTALCOST</text>
<text x="1007.5" y="1029.3">integer[10]</text>
<text x="1007.5" y="1052">integer[10]</text>
<text x="1007.5" y="1074.6">integer[10]</text>
<text x="1007.5" y="1097.3">integer[10]</text>
<text x="1007.5" y="1120">integer[10]</text>
<text x="1007.5" y="1142.6">integer[10]</text>
<text x="1007.5" y="1165.3">integer[10]</text>
<text x="1007.5" y="1188">integer[10]</text>
<text x="1007.5" y="1210.6">integer[10]</text>
<text x="1007.5" y="1233.3">timestamp[19]</text>
<text x="1007.5" y="1256">double precision[15]</text>
<text x="1007.5" y="1278.6">double precision[15]</text>
<text x="848.5" y="1301.3">&lt; 4</text>
<text class="r" x="1139.5" y="1301.3">0 &gt;</text>
</g>
<text x="16.5" y="2171">Generated by SchemaSpy</text>
</svg>
